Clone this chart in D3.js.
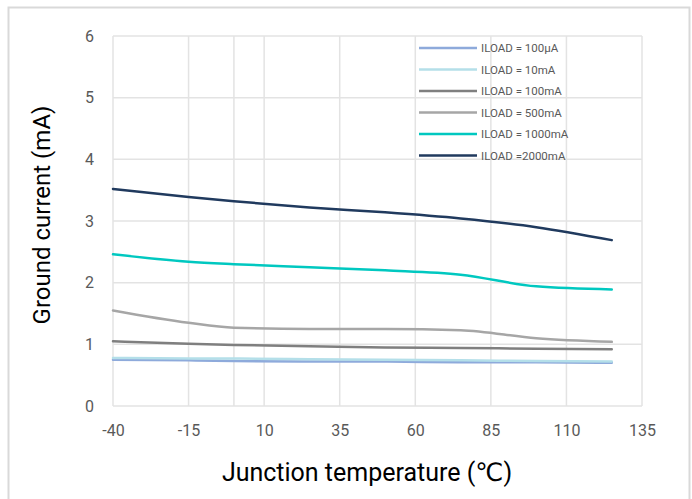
<!DOCTYPE html>
<html>
<head>
<script src="https://cdn.jsdelivr.net/npm/d3@7"></script>
<style>
  body { margin: 0; background: #fff; }
  text { font-family: Roboto, "DejaVu Sans", sans-serif; }
</style>
</head>
<body>
<div id="chart"></div>
<script>
// junction temperature points (°C)
var temps = [-40, -15, 0, 25, 50, 75, 100, 125];

// ground current (mA) for each load
var i100uA  = [0.75, 0.74, 0.73, 0.72, 0.72, 0.71, 0.71, 0.70];
var i10mA   = [0.78, 0.77, 0.77, 0.76, 0.75, 0.74, 0.73, 0.72];
var i100mA  = [1.05, 1.01, 0.99, 0.97, 0.95, 0.94, 0.93, 0.92];
var i500mA  = [1.55, 1.35, 1.27, 1.25, 1.25, 1.23, 1.10, 1.04];
var i1000mA = [2.46, 2.34, 2.30, 2.25, 2.20, 2.13, 1.94, 1.89];
var i2000mA = [3.52, 3.39, 3.32, 3.22, 3.14, 3.04, 2.90, 2.69];

var seriesNames = ["ILOAD = 100\u00b5A", "ILOAD = 10mA", "ILOAD = 100mA",
                   "ILOAD = 500mA", "ILOAD = 1000mA", "ILOAD =2000mA"];
var seriesColors = ["#8eaadb", "#b4dfe9", "#7f7f7f", "#a6a6a6", "#00c8c0", "#203a5e"];

var xTicks = [-40, -15, 10, 35, 60, 85, 110, 135];
var xGrid = [-40, -15, 0, 10, 35, 60, 85, 110, 135];
var yTicks = [0, 1, 2, 3, 4, 5, 6];

var W = 692, H = 499;
var plot = {left: 113, right: 642, top: 36, bottom: 406};

var svg = d3.select("#chart").append("svg")
    .attr("width", W).attr("height", H);

// outer frame
svg.append("rect")
    .attr("x", 8.5).attr("y", 7.5)
    .attr("width", 681).attr("height", 500)
    .attr("fill", "#fff")
    .attr("stroke", "#d9d9d9")
    .attr("stroke-width", 2);

var x = d3.scaleLinear().domain([-40, 135]).range([plot.left, plot.right]);
var y = d3.scaleLinear().domain([0, 6]).range([plot.bottom, plot.top]);

// gridlines
svg.append("g").selectAll("line").data(yTicks).enter().append("line")
    .attr("x1", plot.left).attr("x2", plot.right)
    .attr("y1", function(d) { return y(d); })
    .attr("y2", function(d) { return y(d); })
    .attr("stroke", "#e3e3e3").attr("stroke-width", 1.5);

svg.append("g").selectAll("line").data(xGrid).enter().append("line")
    .attr("x1", function(d) { return x(d); })
    .attr("x2", function(d) { return x(d); })
    .attr("y1", plot.top).attr("y2", plot.bottom)
    .attr("stroke", "#e3e3e3").attr("stroke-width", 1.5);

// axes (labels only)
var xAxis = svg.append("g")
    .attr("transform", "translate(0," + plot.bottom + ")")
    .call(d3.axisBottom(x).tickValues(xTicks).tickSize(0).tickPadding(19)
        .tickFormat(function(d) { return d < 0 ? "-" + Math.abs(d) : d; }));
xAxis.select(".domain").remove();
xAxis.selectAll("text").attr("fill", "#595959").attr("font-size", 16);

var yAxis = svg.append("g")
    .attr("transform", "translate(" + (plot.left - 19) + ",0)")
    .call(d3.axisLeft(y).tickValues(yTicks).tickSize(0).tickPadding(0)
        .tickFormat(d3.format("d")));
yAxis.select(".domain").remove();
yAxis.selectAll("text").attr("fill", "#595959").attr("font-size", 16);

// series
var allSeries = [i100uA, i10mA, i100mA, i500mA, i1000mA, i2000mA];
var line = d3.line()
    .x(function(d, i) { return x(temps[i]); })
    .y(function(d) { return y(d); })
    .curve(d3.curveMonotoneX);

svg.append("g").selectAll("path").data(allSeries).enter().append("path")
    .attr("d", function(d) { return line(d); })
    .attr("fill", "none")
    .attr("stroke", function(d, i) { return seriesColors[i]; })
    .attr("stroke-width", 2.5)
    .attr("stroke-linecap", "round");

// legend
var legend = svg.append("g").attr("transform", "translate(419,48)");
var rows = legend.selectAll("g").data(seriesNames).enter().append("g")
    .attr("transform", function(d, i) { return "translate(0," + (i * 21.5) + ")"; });
rows.append("line")
    .attr("x1", 0).attr("x2", 58)
    .attr("stroke", function(d, i) { return seriesColors[i]; })
    .attr("stroke-width", 2.5);
rows.append("text")
    .attr("x", 62).attr("dy", "0.35em")
    .attr("font-size", 11.5).attr("fill", "#595959")
    .text(function(d) { return d; });

// axis titles
svg.append("text")
    .attr("x", 367).attr("y", 481)
    .attr("text-anchor", "middle")
    .attr("font-size", 25).attr("fill", "#000")
    .text("Junction temperature (\u2103)");

svg.append("text")
    .attr("transform", "translate(50,215) rotate(-90)")
    .attr("text-anchor", "middle")
    .attr("font-size", 24).attr("fill", "#000")
    .text("Ground current (mA)");
</script>
</body>
</html>
